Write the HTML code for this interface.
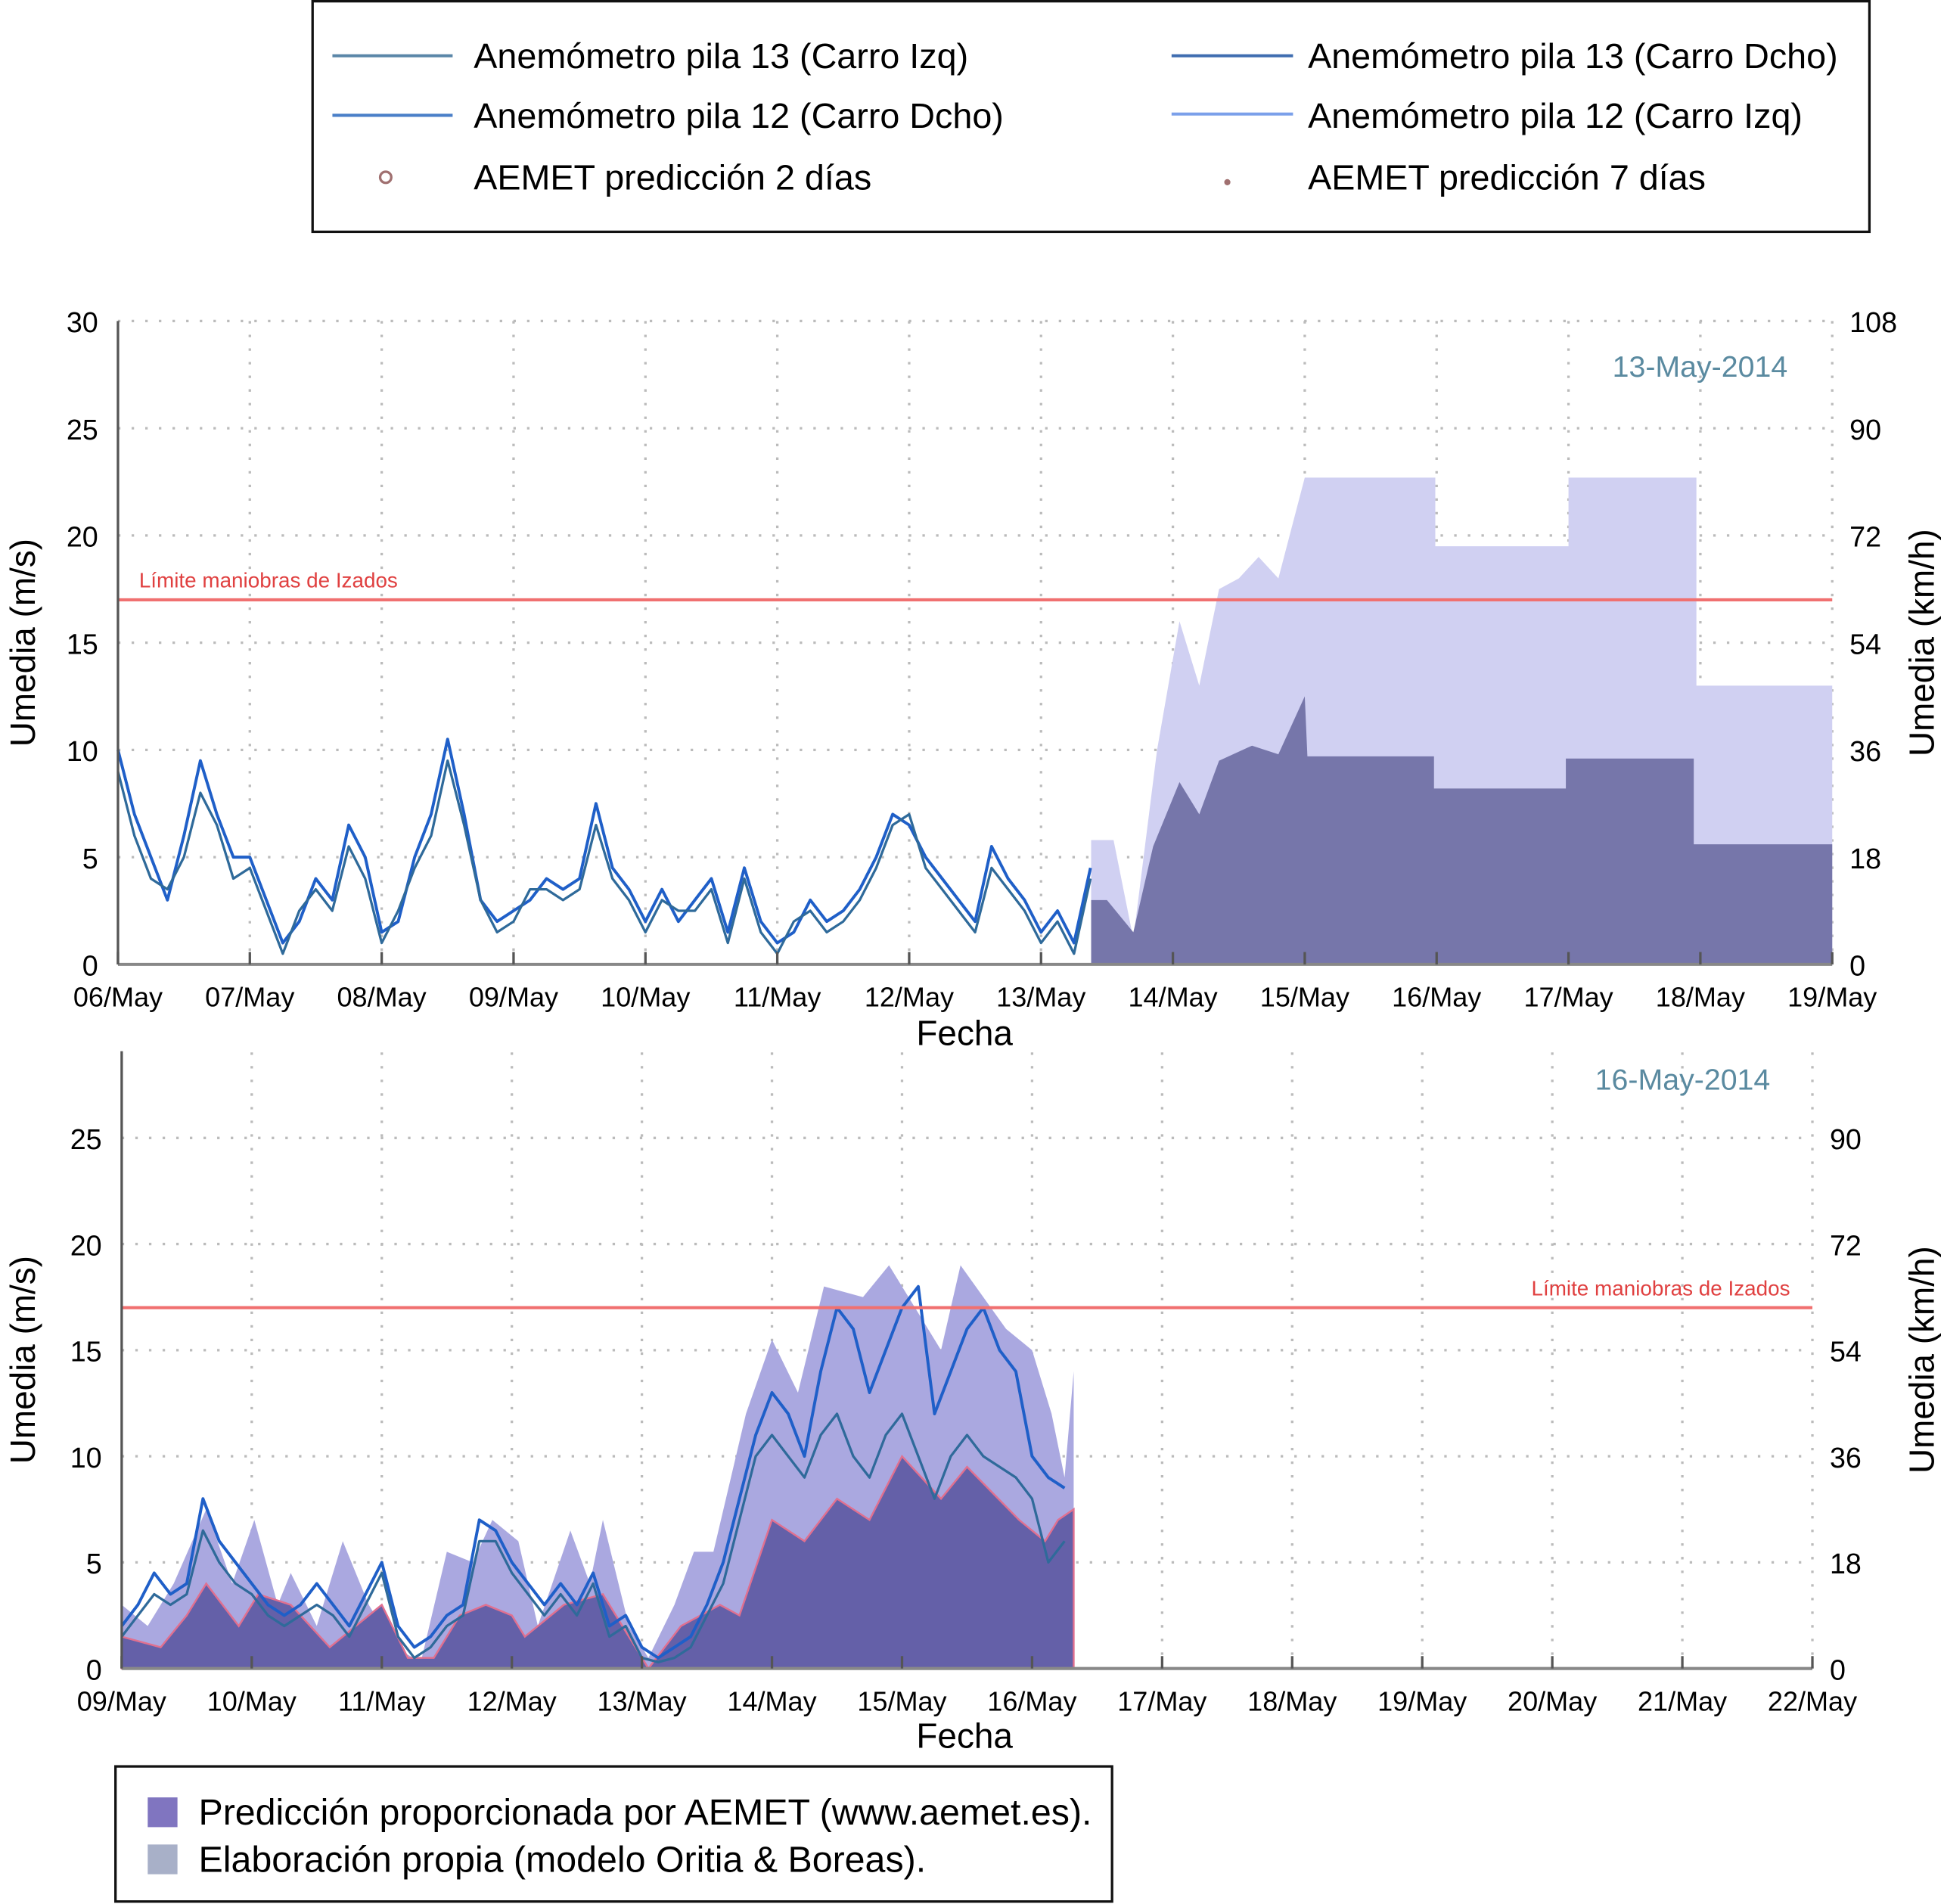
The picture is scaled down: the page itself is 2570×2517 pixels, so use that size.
<!DOCTYPE html>
<html><head><meta charset="utf-8"><style>
html,body{margin:0;padding:0;background:#fff;}
svg{display:block;font-family:"Liberation Sans",sans-serif;}
</style></head><body>
<svg id="s" width="2570" height="2517" viewBox="0 0 1568 1536" xmlns="http://www.w3.org/2000/svg">
<g>
<rect x="252" y="1" width="1256" height="186" fill="#fff" stroke="#111" stroke-width="2"/>
<line x1="268" y1="45" x2="365" y2="45" stroke="#5a86a8" stroke-width="2.5"/>
<text x="382" y="55" font-size="28.5">Anemómetro pila 13 (Carro Izq)</text>
<line x1="945" y1="45" x2="1043" y2="45" stroke="#3f6db0" stroke-width="2.5"/>
<text x="1055" y="55" font-size="28.5">Anemómetro pila 13 (Carro Dcho)</text>
<line x1="268" y1="93" x2="365" y2="93" stroke="#4a7fc8" stroke-width="2.5"/>
<text x="382" y="103" font-size="28.5">Anemómetro pila 12 (Carro Dcho)</text>
<line x1="945" y1="92" x2="1043" y2="92" stroke="#7ba0ea" stroke-width="2.5"/>
<text x="1055" y="103" font-size="28.5">Anemómetro pila 12 (Carro Izq)</text>
<circle cx="311" cy="143" r="4.5" fill="none" stroke="#a07070" stroke-width="2"/>
<text x="382" y="153" font-size="28.5">AEMET predicción 2 días</text>
<circle cx="990" cy="147" r="2.5" fill="#a07070"/>
<text x="1055" y="153" font-size="28.5">AEMET predicción 7 días</text>
</g>
<g id="top"></g>
<g id="bot"></g>
<g>
<rect x="93" y="1425" width="804" height="109" fill="#fff" stroke="#111" stroke-width="2"/>
<rect x="119" y="1450" width="24" height="24" fill="#8075c0"/>
<text x="160" y="1472" font-size="29.5">Predicción proporcionada por AEMET (www.aemet.es).</text>
<rect x="119" y="1488" width="24" height="24" fill="#a8b0c8"/>
<text x="160" y="1510" font-size="29.5">Elaboración propia (modelo Oritia &amp; Boreas).</text>
</g>
</svg>
<script>
// ---- top chart data ----
const topDays = ["06/May","07/May","08/May","09/May","10/May","11/May","12/May","13/May","14/May","15/May","16/May","17/May","18/May","19/May"];
const topLeftTicks = [0,5,10,15,20,25,30];
const topRightTicks = ["0","18","36","54","72","90","108"];
const topSeriesA = [10,7,5,3,6,9.5,7,5,5,3,1,2,4,3,6.5,5,1.5,2,5,7,10.5,7,3,2,2.5,3,4,3.5,4,7.5,4.5,3.5,2,3.5,2,3,4,1.5,4.5,2,1,1.5,3,2,2.5,3.5,5,7,6.5,5,4,3,2,5.5,4,3,1.5,2.5,1,4.5];
const topSeriesB = [9,6,4,3.5,5,8,6.5,4,4.5,2.5,0.5,2.5,3.5,2.5,5.5,4,1,2.5,4.5,6,9.5,6.5,3,1.5,2,3.5,3.5,3,3.5,6.5,4,3,1.5,3,2.5,2.5,3.5,1,4,1.5,0.5,2,2.5,1.5,2,3,4.5,6.5,7,4.5,3.5,2.5,1.5,4.5,3.5,2.5,1,2,0.5,4];
const top7dX = [7.38,7.55,7.7,7.88,8.05,8.2,8.35,8.5,8.65,8.8,9.0,9.99,9.99,11.0,11.0,11.97,11.97,13.0];
const top7dY = [5.8,5.8,1.2,10,16,13,17.5,18,19,18,22.7,22.7,19.5,19.5,22.7,22.7,13,13];
const top2dX = [7.38,7.5,7.7,7.85,8.05,8.2,8.35,8.6,8.8,9.0,9.02,9.98,9.98,10.98,10.98,11.95,11.95,13.0];
const top2dY = [3,3,1.5,5.5,8.5,7,9.5,10.2,9.8,12.5,9.7,9.7,8.2,8.2,9.6,9.6,5.6,5.6];
// ---- bottom chart data ----
const botDays = ["09/May","10/May","11/May","12/May","13/May","14/May","15/May","16/May","17/May","18/May","19/May","20/May","21/May","22/May"];
const botLeftTicks = [0,5,10,15,20,25];
const botRightTicks = ["0","18","36","54","72","90"];
const botAemetX = [0,0.3,0.5,0.65,0.9,1.05,1.3,1.6,1.8,2.0,2.2,2.4,2.6,2.8,3.0,3.1,3.4,3.7,3.95,4.05,4.3,4.6,4.75,5.0,5.25,5.5,5.75,6.0,6.3,6.5,6.9,7.1,7.2,7.32];
const botAemetY = [1.5,1,2.5,4,2,3.5,3,1,2,3,0.5,0.5,2.5,3,2.5,1.5,3,3.5,1,0,2,3,2.5,7,6,8,7,10,8,9.5,7,6,7,7.5];
const botModelX = [0,0.2,0.4,0.65,0.85,1.02,1.2,1.3,1.5,1.7,1.9,2.1,2.3,2.5,2.7,2.85,3.05,3.2,3.45,3.6,3.7,3.9,4.05,4.25,4.4,4.55,4.8,5.0,5.2,5.4,5.7,5.9,6.3,6.45,6.8,7.0,7.15,7.25,7.32];
const botModelY = [3,2,4,7.5,4,7,3,4.5,2,6,3,1,0.3,5.5,5,7,6,2,6.5,4,7,2,0.5,3,5.5,5.5,12,15.5,13,18,17.5,19,15,19,16,15,12,9,14];
const botSeriesC = [2,3,4.5,3.5,4,8,6,5,4,3,2.5,3,4,3,2,3.5,5,2,1,1.5,2.5,3,7,6.5,5,4,3,4,3,4.5,2,2.5,1,0.5,1,1.5,3,5,8,11,13,12,10,14,17,16,13,15,17,18,12,14,16,17,15,14,10,9,8.5];
const botSeriesD = [1.5,2.5,3.5,3,3.5,6.5,5,4,3.5,2.5,2,2.5,3,2.5,1.5,3,4.5,1.5,0.5,1,2,2.5,6,6,4.5,3.5,2.5,3.5,2.5,4,1.5,2,0.5,0.3,0.5,1,2.5,4,7,10,11,10,9,11,12,10,9,11,12,10,8,10,11,10,9.5,9,8,5,6];
const limit = 17;

const NS="http://www.w3.org/2000/svg";
function mk(p,tag,a){const e=document.createElementNS(NS,tag);for(const k in a)e.setAttribute(k,a[k]);p.appendChild(e);return e;}

function chart(g,o){
  const X=d=>o.x0+d*(o.x1-o.x0)/13, Y=v=>o.y0-v*o.py;
  for(let i=1;i<=13;i++){const l=mk(g,'line',{x1:X(i),x2:X(i),y1:o.y0,y2:o.ytop,stroke:'#bbb','stroke-dasharray':'2,9','stroke-width':2});
    
    }
  o.lt.forEach(v=>{if(v>0){const l=mk(g,'line',{x1:o.x0,x2:o.x1,y1:Y(v),y2:Y(v),stroke:'#bbb','stroke-dasharray':'2,9','stroke-width':2});
    
    }});
  const poly=(xs,ys,fill,stroke,name)=>{let d='M'+X(xs[0])+','+Y(0);xs.forEach((x,i)=>d+=' L'+X(x)+','+Y(ys[i]));d+=' L'+X(xs[xs.length-1])+','+Y(0)+'Z';
    const p=mk(g,'path',{d:d,fill:fill,stroke:stroke||'none','stroke-width':1.5});
    
    };
  poly(o.lx,o.ly,o.lfill,null,'forecast-upper-area');
  poly(o.dx,o.dy,o.dfill,o.dstroke,'forecast-lower-area');
  const line=(vals,col,w,name)=>{let d='';vals.forEach((v,i)=>d+=(i?' L':'M')+X(i*0.125)+','+Y(v));
    const p=mk(g,'path',{d:d,fill:'none',stroke:col,'stroke-width':w,'stroke-linejoin':'round'});
    
    };
  line(o.sA,'#1f5fc8',2.4,'measured-pila12-line');
  line(o.sB,'#2f6a9a',2,'measured-pila13-line');
  const ll=mk(g,'line',{x1:o.x0,x2:o.x1,y1:Y(limit),y2:Y(limit),stroke:'#f07070','stroke-width':2.5});
  
  
  const lt=mk(g,'text',{x:o.limx,y:Y(limit)-10,'font-size':17,fill:'#e04040','text-anchor':o.lima});lt.textContent='Límite maniobras de Izados';
  
  
  mk(g,'line',{x1:o.x0,x2:o.x0,y1:o.ytop,y2:o.y0,stroke:'#555','stroke-width':2});
  mk(g,'line',{x1:o.x0,x2:o.x1,y1:o.y0,y2:o.y0,stroke:'#888','stroke-width':2.5});
  for(let i=0;i<=13;i++){mk(g,'line',{x1:X(i),x2:X(i),y1:o.y0,y2:o.y0-10,stroke:'#555','stroke-width':2});
    const t=mk(g,'text',{x:X(i),y:o.y0+34,'font-size':22,'text-anchor':'middle'});t.textContent=o.days[i];
    
    }
  o.lt.forEach(v=>{const t=mk(g,'text',{x:o.x0-16,y:Y(v)+9,'font-size':23,'text-anchor':'end'});t.textContent=v;
    
    });
  o.rt.forEach((v,i)=>{const t=mk(g,'text',{x:o.rx,y:Y(i*5)+9,'font-size':23,'text-anchor':'start'});t.textContent=v;
    
    });
  const yc=(o.ytop+o.y0)/2;
  const a=mk(g,'text',{x:28,y:yc,'font-size':28,'text-anchor':'middle',transform:'rotate(-90 28 '+yc+')'});a.textContent='Umedia (m/s)';
  
  
  const b=mk(g,'text',{x:1560,y:yc,'font-size':28,'text-anchor':'middle',transform:'rotate(-90 1560 '+yc+')'});b.textContent='Umedia (km/h)';
  
  
  const f=mk(g,'text',{x:778,y:o.y0+o.fy,'font-size':28,'text-anchor':'middle'});f.textContent='Fecha';
  
  
  const dt=mk(g,'text',{x:o.datex,y:o.datey,'font-size':24,fill:'#5a8aa0','text-anchor':'end'});dt.textContent=o.date;
  
  
}
chart(document.getElementById('top'),{x0:95,x1:1478,y0:778,ytop:259,py:17.3,days:topDays,lt:topLeftTicks,rt:topRightTicks,rx:1492,fy:65,
  lx:top7dX,ly:top7dY,lfill:'#d0d0f2',dx:top2dX,dy:top2dY,dfill:'#7676aa',dstroke:null,sA:topSeriesA,sB:topSeriesB,
  limx:112,lima:'start',date:'13-May-2014',datex:1442,datey:304});
chart(document.getElementById('bot'),{x0:98,x1:1462,y0:1346,ytop:848,py:17.12,days:botDays,lt:botLeftTicks,rt:botRightTicks,rx:1476,fy:64,
  lx:botModelX,ly:botModelY,lfill:'#aaa8e0',dx:botAemetX,dy:botAemetY,dfill:'#6460a8',dstroke:'#e07090',sA:botSeriesC,sB:botSeriesD,
  limx:1444,lima:'end',date:'16-May-2014',datex:1428,datey:879});
</script>
</body></html>
